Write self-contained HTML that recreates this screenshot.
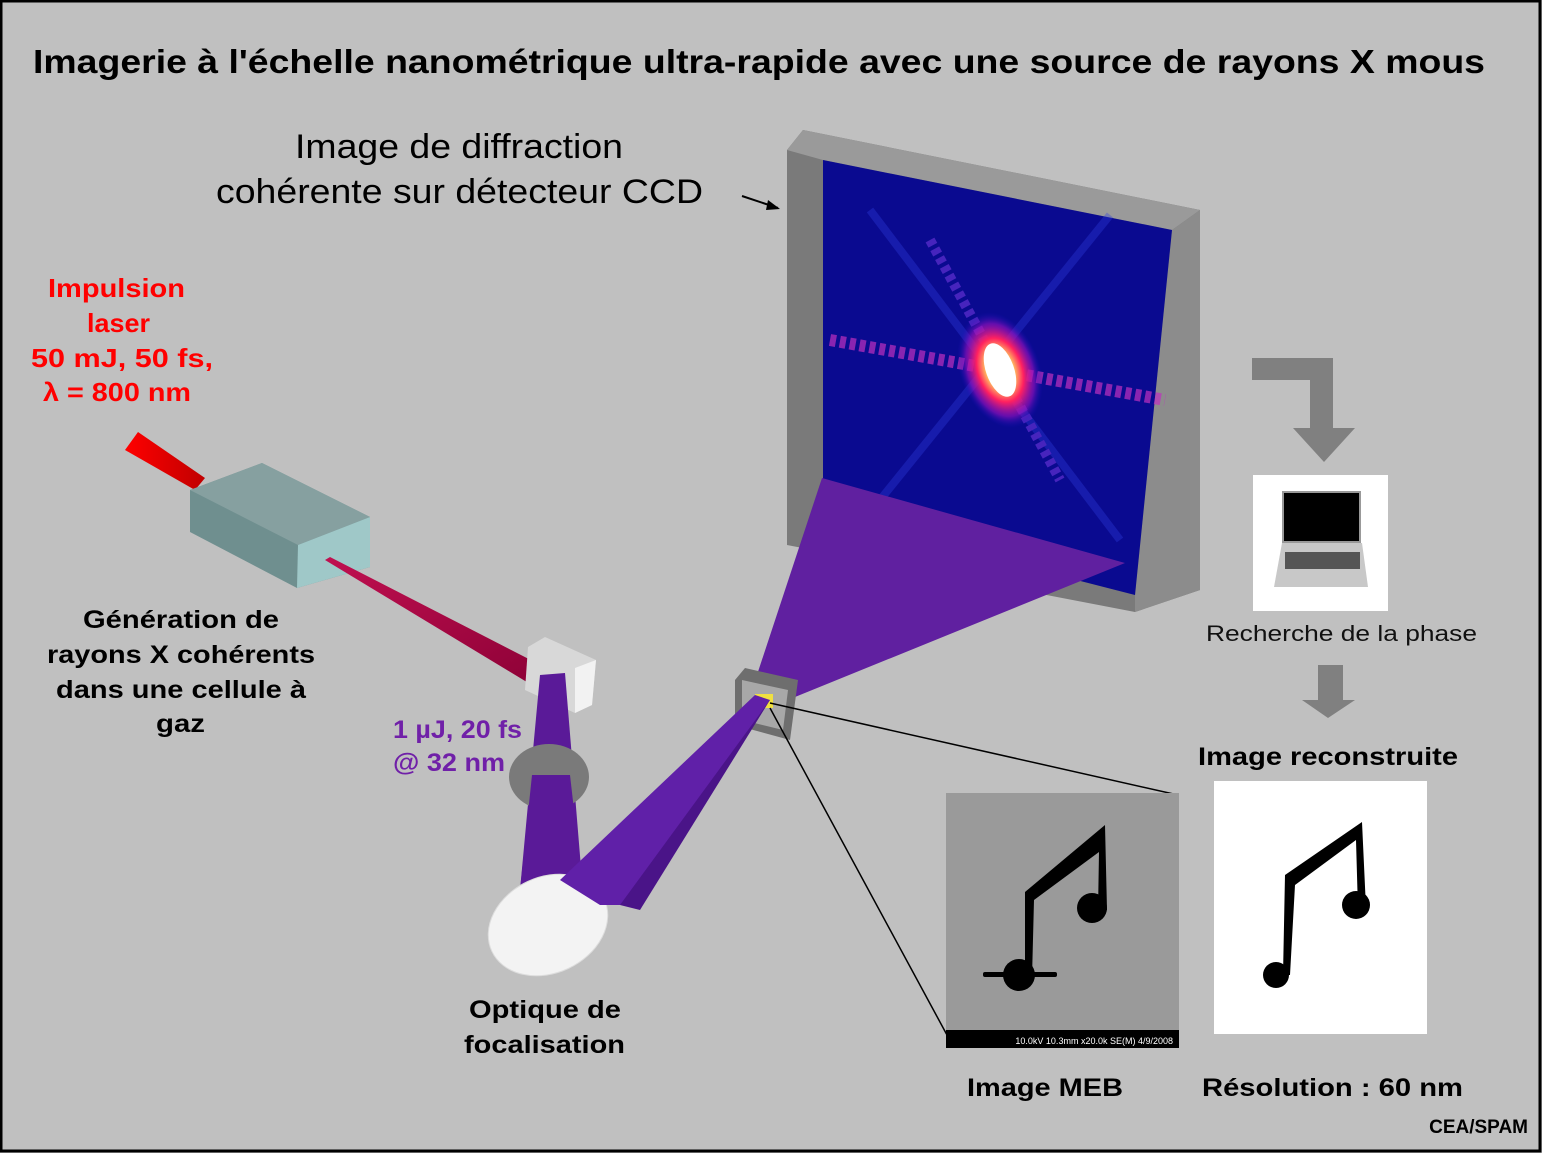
<!DOCTYPE html>
<html><head><meta charset="utf-8"><style>
html,body{margin:0;padding:0;background:#c0c0c0}
svg{display:block}
text{font-family:"Liberation Sans",Arial,sans-serif}
</style></head><body>
<svg width="1542" height="1153" viewBox="0 0 1542 1153" xmlns="http://www.w3.org/2000/svg">
<defs>
<radialGradient id="spot" cx="50%" cy="50%" r="50%">
<stop offset="0" stop-color="#fff"/><stop offset="0.3" stop-color="#ffe060"/><stop offset="0.55" stop-color="#ff2060"/><stop offset="0.8" stop-color="#a010c0" stop-opacity="0.6"/><stop offset="1" stop-color="#1010c0" stop-opacity="0"/>
</radialGradient>
<linearGradient id="red" x1="0" y1="0" x2="1" y2="0"><stop offset="0" stop-color="#ff0000"/><stop offset="1" stop-color="#c00000"/></linearGradient>
<linearGradient id="beam" x1="0" y1="0" x2="1" y2="1"><stop offset="0" stop-color="#c01050"/><stop offset="1" stop-color="#8a0035"/></linearGradient>
</defs>
<rect x="1" y="1" width="1539" height="1150" fill="#c0c0c0" stroke="#000" stroke-width="3"/>
<text x="33" y="73" font-size="33" font-weight="bold" textLength="1452" lengthAdjust="spacingAndGlyphs">Imagerie à l'échelle nanométrique ultra-rapide avec une source de rayons X mous</text>

<text x="216" y="158" font-size="34" dx="79" textLength="328" lengthAdjust="spacingAndGlyphs">Image de diffraction</text>
<text x="216" y="203" font-size="34" textLength="487" lengthAdjust="spacingAndGlyphs">cohérente sur détecteur CCD</text>
<line x1="742" y1="196" x2="778" y2="208" stroke="#000" stroke-width="2"/>
<polygon points="780,209 768,200 766,210" fill="#000"/>

<!-- CCD frame -->
<polygon points="787,150 803,130 1200,210 1200,590 1135,612 787,545" fill="#7a7a7a"/>
<polygon points="787,150 803,130 1200,210 1172,230 823,160" fill="#9a9a9a"/>
<polygon points="1172,230 1200,210 1200,590 1135,612 1135,595" fill="#8c8c8c"/>
<polygon points="823,160 1172,230 1135,595 823,515" fill="#0a0a90"/>
<g opacity="0.7">
<line x1="870" y1="210" x2="1120" y2="540" stroke="#3040e0" stroke-width="8" opacity="0.5"/>
<line x1="1110" y1="215" x2="880" y2="500" stroke="#3040e0" stroke-width="8" opacity="0.5"/>
<line x1="830" y1="340" x2="1165" y2="400" stroke="#c030c0" stroke-width="12" stroke-dasharray="6 4"/>
<line x1="930" y1="240" x2="1060" y2="480" stroke="#6030d0" stroke-width="10" stroke-dasharray="6 4"/>
</g>
<ellipse cx="1000" cy="370" rx="40" ry="60" fill="url(#spot)" transform="rotate(-20 1000 370)"/>
<ellipse cx="1000" cy="370" rx="14" ry="28" fill="#fff" transform="rotate(-20 1000 370)"/>

<!-- purple fan -->
<polygon points="752,690 822,478 1125,563 795,697" fill="#6020a0"/>

<!-- sample -->
<polygon points="735,680 745,668 798,680 790,740 735,725" fill="#6e6e6e"/>
<polygon points="742,680 788,690 783,730 742,720" fill="#a8a8a8"/>
<rect x="755" y="694" width="18" height="14" fill="#f0e040"/>
<line x1="770" y1="703" x2="1178" y2="795" stroke="#000" stroke-width="1.5"/>
<line x1="770" y1="708" x2="947" y2="1035" stroke="#000" stroke-width="1.5"/>

<!-- laser -->
<polygon points="125,450 138,432 205,478 195,490" fill="url(#red)"/>
<polygon points="190,490 262,463 370,517 370,567 297,588 190,532" fill="#6f8f8f"/>
<polygon points="190,490 262,463 370,517 298,545" fill="#86a0a0"/>
<polygon points="298,545 370,517 370,567 297,588" fill="#9fc8c8"/>
<polygon points="330,557 560,675 540,690 325,560" fill="url(#beam)"/>
<!-- mirror -->
<polygon points="528,647 545,637 596,660 592,705 575,713 525,690" fill="#d8d8d8"/>
<polygon points="575,668 596,660 592,705 575,713" fill="#f2f2f2"/>
<!-- vertical beam -->
<polygon points="540,675 565,673 582,880 520,890" fill="#5a1a98"/>
<ellipse cx="549" cy="777" rx="40" ry="33" fill="#7a7a7a"/>
<polygon points="532,775 570,775 582,880 520,890" fill="#5a1a98"/>
<!-- mirror bottom -->
<ellipse cx="548" cy="925" rx="62" ry="48" fill="#f3f3f3" stroke="#ddd" transform="rotate(-25 548 925)"/>
<polygon points="770,700 760,700 608,875 620,905 640,910" fill="#4a1488"/>
<polygon points="770,700 755,695 560,880 600,905 620,905" fill="#6020a8"/>

<g font-size="26" font-weight="bold" fill="#ff0000">
<text x="48" y="297" textLength="137" lengthAdjust="spacingAndGlyphs">Impulsion</text>
<text x="87" y="332" textLength="63" lengthAdjust="spacingAndGlyphs">laser</text>
<text x="31" y="367" textLength="182" lengthAdjust="spacingAndGlyphs">50 mJ, 50 fs,</text>
<text x="43" y="401" textLength="148" lengthAdjust="spacingAndGlyphs">λ = 800 nm</text>
</g>

<g font-size="25" font-weight="bold">
<text x="83" y="628" textLength="196" lengthAdjust="spacingAndGlyphs">Génération de</text>
<text x="47" y="663" textLength="268" lengthAdjust="spacingAndGlyphs">rayons X cohérents</text>
<text x="56" y="698" textLength="250" lengthAdjust="spacingAndGlyphs">dans une cellule à</text>
<text x="156" y="732" textLength="49" lengthAdjust="spacingAndGlyphs">gaz</text>
<text x="469" y="1018" textLength="152" lengthAdjust="spacingAndGlyphs">Optique de</text>
<text x="464" y="1053" textLength="161" lengthAdjust="spacingAndGlyphs">focalisation</text>
<text x="967" y="1096" textLength="156" lengthAdjust="spacingAndGlyphs">Image MEB</text>
<text x="1202" y="1096" textLength="261" lengthAdjust="spacingAndGlyphs">Résolution : 60 nm</text>
<text x="1198" y="765" textLength="260" lengthAdjust="spacingAndGlyphs">Image reconstruite</text>
</g>
<text x="393" y="738" font-size="25" font-weight="bold" fill="#7020a8" textLength="129" lengthAdjust="spacingAndGlyphs">1 µJ, 20 fs</text>
<text x="393" y="771" font-size="25" font-weight="bold" fill="#7020a8" textLength="112" lengthAdjust="spacingAndGlyphs">@ 32 nm</text>
<text x="1206" y="641" font-size="22" fill="#111" textLength="271" lengthAdjust="spacingAndGlyphs">Recherche de la phase</text>
<text x="1528" y="1133" font-size="19" font-weight="bold" text-anchor="end">CEA/SPAM</text>

<!-- arrows -->
<polygon points="1252,358 1333,358 1333,428 1355,428 1324,462 1293,428 1310,428 1310,380 1252,380" fill="#808080"/>
<polygon points="1318,665 1343,665 1343,700 1355,700 1328,718 1302,700 1318,700" fill="#808080"/>

<!-- laptop -->
<rect x="1253" y="475" width="135" height="136" fill="#fff"/>
<rect x="1283" y="492" width="77" height="50" fill="#000" stroke="#999" stroke-width="2"/>
<polygon points="1282,543 1362,543 1368,587 1274,587" fill="#c8c8c8"/>
<rect x="1285" y="552" width="75" height="17" fill="#555"/>

<!-- MEB -->
<rect x="946" y="793" width="233" height="255" fill="#9a9a9a"/>
<rect x="946" y="1030" width="233" height="18" fill="#000"/>
<text x="1173" y="1044" font-size="9" fill="#fff" text-anchor="end">10.0kV 10.3mm x20.0k SE(M) 4/9/2008</text>
<g fill="#000">
<polygon points="1025,892 1105,825 1107,910 1098,912 1099,852 1034,900 1032,978 1025,978"/>
<circle cx="1092" cy="908" r="15"/>
<circle cx="1019" cy="975" r="16"/>
<rect x="983" y="972" width="74" height="5" rx="2"/>
</g>

<!-- reconstructed -->
<rect x="1214" y="781" width="213" height="253" fill="#fff"/>
<g fill="#000">
<polygon points="1285,875 1362,822 1366,908 1358,910 1356,840 1295,885 1290,975 1283,975"/>
<circle cx="1356" cy="905" r="14"/>
<circle cx="1276" cy="975" r="13"/>
</g>
</svg>
</body></html>
